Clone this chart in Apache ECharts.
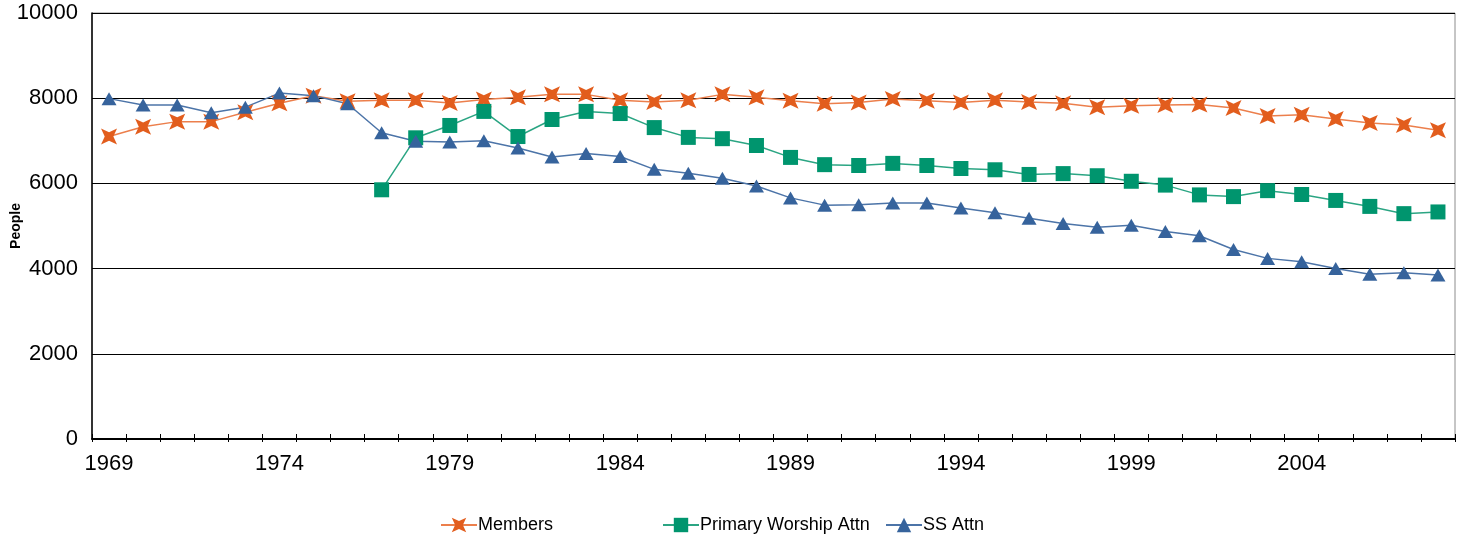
<!DOCTYPE html>
<html>
<head>
<meta charset="utf-8">
<script src="https://cdn.jsdelivr.net/npm/echarts@6/dist/echarts.min.js"></script>
<style>
html,body{margin:0;padding:0;background:#fff;}
#chart{width:1465px;height:540px;}
</style>
</head>
<body>
<div id="chart"></div>
<script>
const years = [];
for (let y = 1969; y <= 2008; y++) years.push(String(y));

const members = [7100,7330,7450,7450,7670,7880,8060,7930,7950,7950,
                 7890,7970,8020,8090,8090,7950,7910,7950,8090,8020,
                 7940,7870,7900,7980,7940,7900,7950,7910,7880,7790,
                 7820,7840,7850,7770,7580,7610,7510,7420,7370,7250];

const primaryWorship = [null,null,null,null,null,null,null,null,
                 5850,7070,7360,7690,7100,7500,7690,7640,7310,7080,7050,6890,
                 6610,6440,6420,6470,6420,6350,6320,6210,6230,6180,
                 6050,5960,5730,5690,5830,5740,5600,5460,5290,5330];

const ssAttn = [7990,7840,7840,7660,7790,8120,8060,7870,7190,6990,
                6970,7000,6830,6620,6700,6630,6330,6240,6120,5940,
                5660,5490,5500,5540,5540,5420,5310,5180,5060,4970,
                5020,4870,4770,4450,4240,4160,4000,3870,3900,3850];

const seriesNames = ['Members','Primary Worship Attn','SS Attn'];
const yMin = 0, yMax = 10000, yStep = 2000;

const FONT = "'Liberation Sans', Arial, sans-serif";
const starPath = 'path://M0,0 L5,2.3 L10,0 L7.7,5 L10,10 L5,7.7 L0,10 L2.3,5 Z';

const chart = echarts.init(document.getElementById('chart'), null, {renderer:'canvas'});

const legendBase = {
  orient:'horizontal', top:511, itemWidth:36, itemHeight:18, itemGap:0,
  textStyle:{fontFamily:FONT, fontSize:18, color:'#000', padding:[0,0,0,-4]},
  selectedMode:false
};

chart.setOption({
  animation:false,
  backgroundColor:'#fff',
  grid:{left:92, right:10, top:13, bottom:101, containLabel:false, outerBoundsMode:'none',
        show:true, borderColor:'#8c8c8c', borderWidth:1, backgroundColor:'transparent'},
  legend:[
    Object.assign({}, legendBase, {left:435, data:[seriesNames[0]]}),
    Object.assign({}, legendBase, {left:657, data:[seriesNames[1]]}),
    Object.assign({}, legendBase, {left:880, data:[seriesNames[2]]})
  ],
  xAxis:[{
    type:'category', data:years, boundaryGap:true, position:'bottom',
    axisLine:{show:true, lineStyle:{color:'#000', width:2}},
    axisTick:{show:true, inside:true, length:5, interval:0, alignWithLabel:false, lineStyle:{color:'#000', width:1}},
    axisLabel:{interval:4, fontFamily:FONT, fontSize:22, color:'#000', margin:14},
    splitLine:{show:false}
  },{
    type:'category', data:years, boundaryGap:true, position:'bottom', gridIndex:0,
    axisLine:{show:false},
    axisTick:{show:true, inside:false, length:3, interval:0, lineStyle:{color:'#000', width:1}},
    axisLabel:{show:false},
    splitLine:{show:false}
  }],
  yAxis:{
    type:'value', min:yMin, max:yMax, interval:yStep,
    name:'People', nameLocation:'middle', nameGap:69, nameMoveOverlap:false,
    nameTextStyle:{fontFamily:FONT, fontSize:14, fontWeight:'bold', color:'#000'},
    axisLine:{show:true, lineStyle:{color:'#000', width:1.5}},
    axisTick:{show:false},
    axisLabel:{fontFamily:FONT, fontSize:22, color:'#000', margin:14, formatter:function(v){return String(v);}},
    splitLine:{show:true, lineStyle:{color:'#000', width:1.2}}
  },
  series:[
    {
      name:seriesNames[0], type:'line', data:members, xAxisIndex:0,
      symbol:starPath, symbolSize:16,
      itemStyle:{color:'#E25D1D'},
      lineStyle:{color:'#EC7F4C', width:1.5}
    },
    {
      name:seriesNames[1], type:'line', data:primaryWorship, xAxisIndex:0,
      symbol:'rect', symbolSize:15, connectNulls:false,
      itemStyle:{color:'#00956E'},
      lineStyle:{color:'#2BA583', width:1.5}
    },
    {
      name:seriesNames[2], type:'line', data:ssAttn, xAxisIndex:0,
      symbol:'triangle', symbolSize:[15,13],
      itemStyle:{color:'#36639C'},
      lineStyle:{color:'#4C74A8', width:1.5}
    }
  ]
});
</script>
</body>
</html>
